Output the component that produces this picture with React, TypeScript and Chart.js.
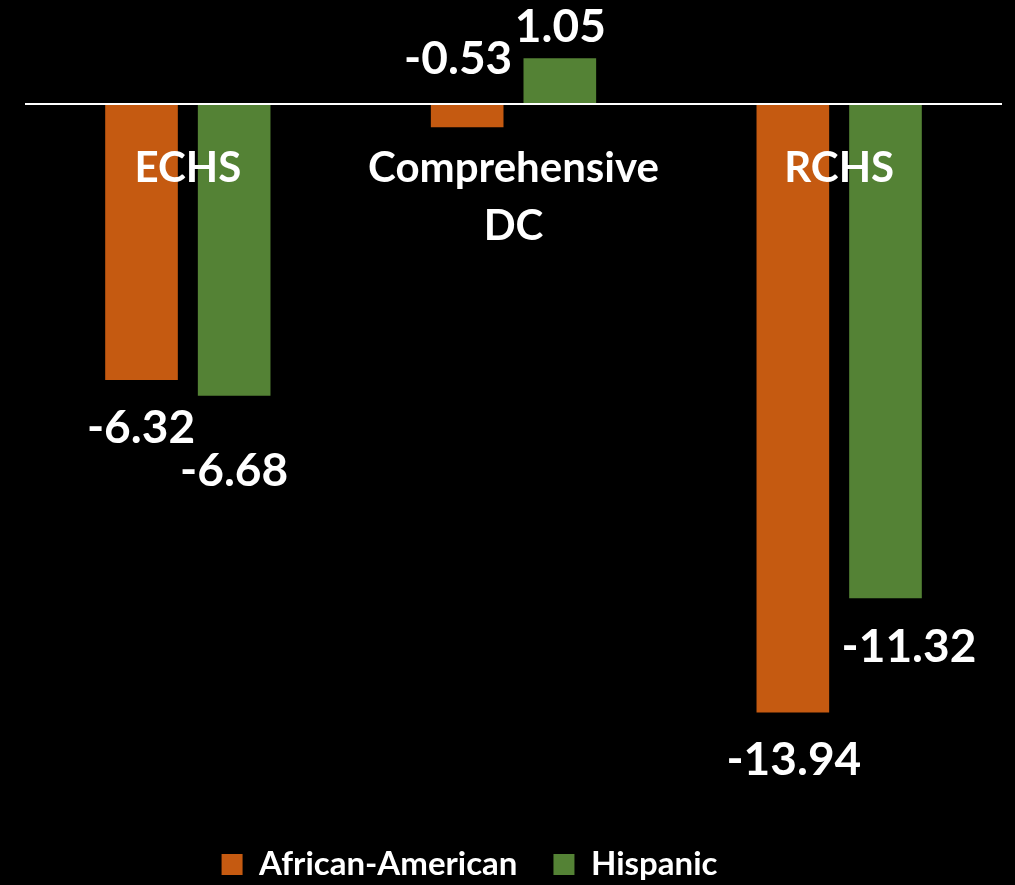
import React, { useEffect, useRef } from "react";
import { Chart, registerables } from "chart.js";

Chart.register(...registerables);

const categories: string[][] = [["ECHS"], ["Comprehensive", "DC"], ["RCHS"]];
const seriesNames = ["African-American", "Hispanic"];
const africanAmerican = [-6.32, -0.53, -13.94];
const hispanic = [-6.68, 1.05, -11.32];
const seriesColors = ["#C55A11", "#548235"];

// label nudges (dx, dy from bar end to text baseline), per series per category
const labelNudges = [
  [[-0.5, 63.5], [-9, -53], [1, 62]],
  [[0, 90], [0.5, -16], [23.5, 64]],
];

// legend nudge (dx, dy)
const legendNudge = [-44, 6];

const FONT = "Lato, 'Open Sans', sans-serif";

const overlayPlugin = {
  id: "overlay",
  afterLayout(chart: any) {
    const lg = chart.legend;
    if (!lg) return;
    lg.left += legendNudge[0];
    lg.right += legendNudge[0];
    lg.top += legendNudge[1];
    lg.bottom += legendNudge[1];
  },
  afterDatasetsDraw(chart: any) {
    const { ctx, chartArea, scales } = chart;
    const y0 = scales.y.getPixelForValue(0);
    ctx.save();
    // zero line
    ctx.strokeStyle = "#FFFFFF";
    ctx.lineWidth = 2;
    ctx.beginPath();
    ctx.moveTo(chartArea.left, y0);
    ctx.lineTo(chartArea.right, y0);
    ctx.stroke();

    // category labels
    ctx.fillStyle = "#FFFFFF";
    ctx.textAlign = "center";
    ctx.textBaseline = "alphabetic";
    ctx.font = `bold 42px ${FONT}`;
    categories.forEach((lines, i) => {
      const x = scales.x.getPixelForValue(i);
      lines.forEach((line, j) => {
        ctx.fillText(line, x, y0 + 78 + j * 58);
      });
    });

    // value labels
    ctx.font = `bold 46px ${FONT}`;
    chart.data.datasets.forEach((ds: any, di: number) => {
      const meta = chart.getDatasetMeta(di);
      meta.data.forEach((bar: any, i: number) => {
        const v = ds.data[i];
        const [dx, dy] = labelNudges[di][i];
        ctx.fillText(v.toFixed(2), bar.x + dx, bar.y + dy);
      });
    });
    ctx.restore();
  },
};

export default function App() {
  const canvasRef = useRef<HTMLCanvasElement | null>(null);

  useEffect(() => {
    document.body.style.margin = "0";
    document.body.style.background = "#000000";
    const canvas = canvasRef.current;
    if (!canvas) return;
    const chart = new Chart(canvas, {
      type: "bar",
      data: {
        labels: categories.map((c) => c.join(" ")),
        datasets: [
          {
            label: seriesNames[0],
            data: africanAmerican,
            backgroundColor: seriesColors[0],
            borderWidth: 0,
          },
          {
            label: seriesNames[1],
            data: hispanic,
            backgroundColor: seriesColors[1],
            borderWidth: 0,
          },
        ],
      },
      options: {
        animation: false,
        responsive: true,
        maintainAspectRatio: false,
        layout: { padding: { left: 25, right: 13, top: 0, bottom: 0 } },
        datasets: {
          bar: { categoryPercentage: 0.569, barPercentage: 0.784 },
        },
        scales: {
          x: { display: false },
          y: { display: false, min: -16.08, max: 2.385 },
        },
        plugins: {
          legend: {
            display: true,
            position: "bottom",
            labels: {
              color: "#FFFFFF",
              font: { family: FONT, weight: "bold", size: 33 },
              boxWidth: 21,
              boxHeight: 21,
              padding: 36,
            },
          },
          tooltip: { enabled: false },
        },
      },
      plugins: [overlayPlugin],
    });
    return () => chart.destroy();
  }, []);

  return (
    <div
      style={{
        position: "fixed",
        left: 0,
        top: 0,
        width: 1015,
        height: 885,
        background: "#000000",
      }}
    >
      <canvas ref={canvasRef} />
    </div>
  );
}
